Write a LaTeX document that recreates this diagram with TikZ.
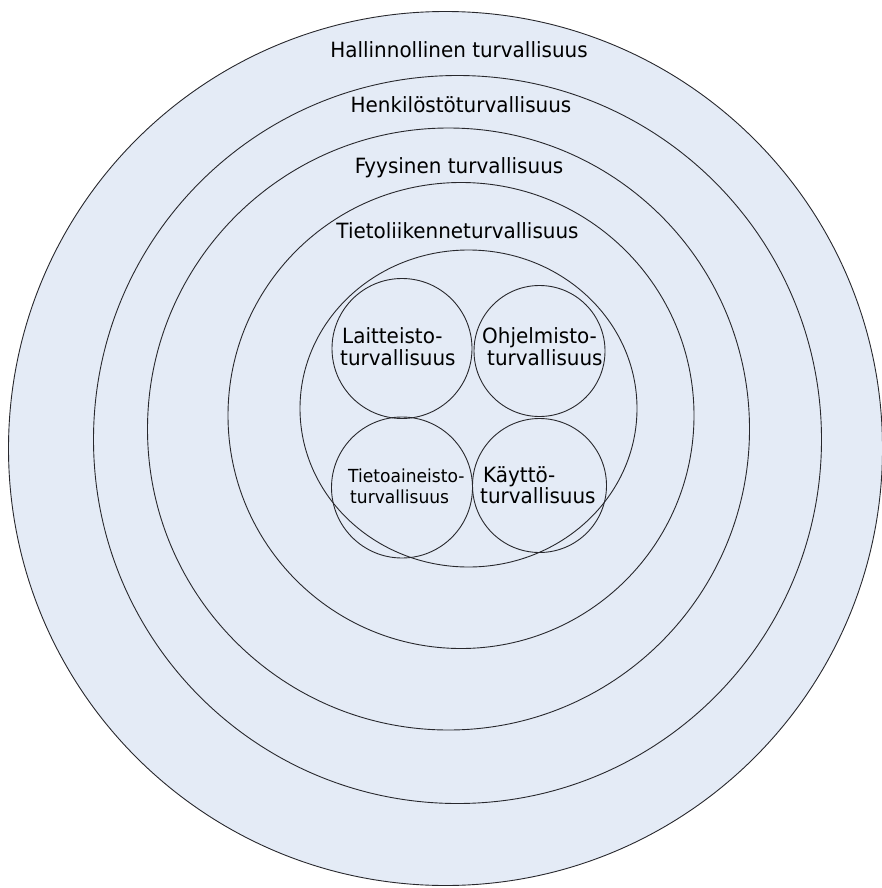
\documentclass[tikz,border=0pt]{standalone}
\usepackage{fontspec}
\setmainfont{DejaVu Sans}[FakeStretch=0.95]
\definecolor{ringfill}{RGB}{228,235,246}
\definecolor{ringline}{RGB}{40,40,45}
\begin{document}
\begin{tikzpicture}[x=1pt,y=-1pt,
  ring/.style={draw=ringline,line width=0.9pt},
  layerlabel/.style={anchor=base,inner sep=0pt,font=\fontsize{21}{22}\selectfont},
  partlabel/.style={anchor=base west,inner sep=0pt,font=\fontsize{21}{22}\selectfont},
  smalllabel/.style={anchor=base west,inner sep=0pt,font=\fontsize{18}{21}\selectfont}]
\useasboundingbox (0,0) rectangle (882,888);

% common background of all layers
\fill[ringfill] (445.5,448.5) circle (437);

% concentric security layers
\draw[ring] (445.5,448.5) circle (437);
\draw[ring] (457.5,439.5) circle (364);
\draw[ring] (448.5,429) circle (301);
\draw[ring] (461,415.5) circle (233);
\draw[ring] (468.5,408.5) ellipse (168.5 and 158.5);

% four component circles
\draw[ring] (402,348.5) circle (70);
\draw[ring] (539.5,351) circle (65.5);
\draw[ring] (402,487.5) circle (70.5);
\draw[ring] (539.5,485.5) circle (67);

% layer names
\node[layerlabel] (hal) at (459,58) {Hallinnollinen turvallisuus};
\node[layerlabel] (hen) at (461,113) {Henkilöstöturvallisuus};
\node[layerlabel] (fyy) at (459,173) {Fyysinen turvallisuus};
\node[layerlabel] (tli) at (457.5,238) {Tietoliikenneturvallisuus};

% component names
\node[partlabel] (lai1) at (342,343) {Laitteisto-};
\node[partlabel] (lai2) at (340,365) {turvallisuus};
\node[partlabel] (ohj1) at (482,343) {Ohjelmisto-};
\node[partlabel] (ohj2) at (487,365) {turvallisuus};
\node[smalllabel] (tie1) at (348,482) {Tietoaineisto-};
\node[smalllabel] (tie2) at (350,503) {turvallisuus};
\node[partlabel] (kay1) at (483,482) {Käyttö-};
\node[partlabel] (kay2) at (480,503) {turvallisuus};
\end{tikzpicture}
\end{document}
